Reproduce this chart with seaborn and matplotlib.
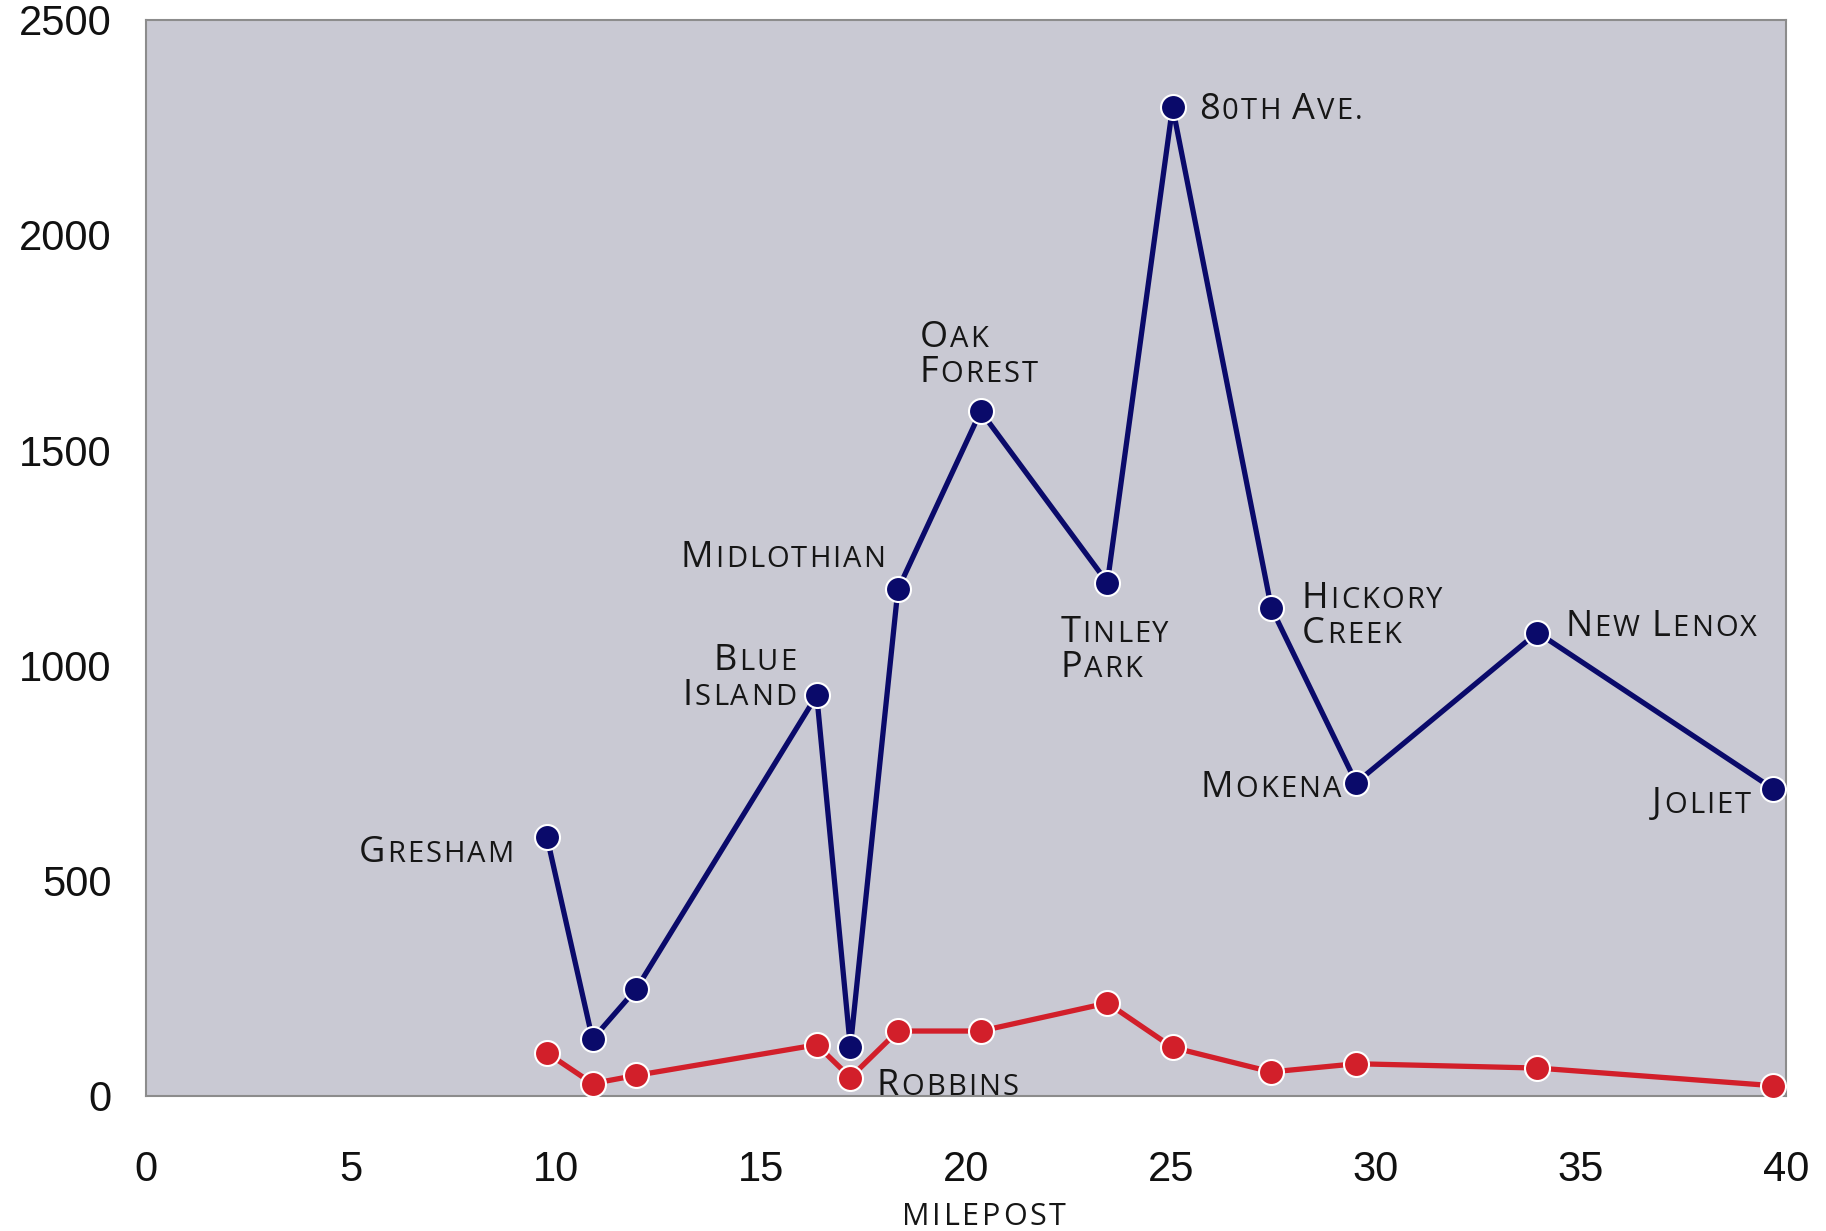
import matplotlib
matplotlib.use('Agg')
import matplotlib.pyplot as plt
import seaborn as sns
import pandas as pd
from matplotlib.offsetbox import TextArea, HPacker, VPacker, AnnotationBbox

# data
milepost = [9.78, 10.89, 11.96, 16.36, 17.18, 18.34, 20.36, 23.45, 25.04, 27.45, 29.52, 33.94, 39.69]
blue_vals = [600, 131, 248, 930, 112, 1176, 1590, 1192, 2297, 1133, 727, 1076, 713]
red_vals = [99, 28, 47, 118, 42, 150, 150, 215, 112, 55, 74, 64, 23]
station_names = ['Gresham', '', '', 'Blue\nIsland', '', 'Midlothian', 'Oak\nForest',
                 'Tinley\nPark', '80th Ave.', 'Hickory\nCreek', 'Mokena', 'New Lenox', 'Joliet']
red_names = ['', '', '', '', 'Robbins', '', '', '', '', '', '', '', '']
x_ticks = [0, 5, 10, 15, 20, 25, 30, 35, 40]
y_ticks = [0, 500, 1000, 1500, 2000, 2500]

NAVY = '#0a0a6a'
RED = '#d21f2a'
BG = '#c9c9d3'
LABEL_FONT = ['Open Sans', 'DejaVu Sans']

# label offsets in points: (dx, dy, box x-align)
blue_offsets = {0: (-24, -11, 1), 3: (-15, 12, 1), 5: (-9, 23, 1), 6: (-44, 40, 0),
                7: (-34, -49, 0), 8: (19, -2, 0), 9: (22, -6, 0), 10: (-11, -4, 1),
                11: (20, 4, 0), 12: (-16, -11, 1)}
red_offsets = {4: (19, -6, 0)}


def smallcaps_box(label, big=26, small=21, align='left', track=1.5):
    lines = []
    for line in label.split('\n'):
        parts = []
        for i, ch in enumerate(line):
            first = (i == 0 or line[i - 1] == ' ') and ch != ' '
            size = big if (ch.isupper() or first) else small
            parts.append(TextArea(ch.upper(), textprops=dict(fontsize=size, family=LABEL_FONT,
                                                             color='#161616')))
        lines.append(HPacker(children=parts, align='baseline', pad=0, sep=track))
    if len(lines) == 1:
        return lines[0]
    return VPacker(children=lines, align=align, pad=0, sep=-1)


sns.set_style('white')
plt.rcParams['font.family'] = ['Liberation Sans', 'DejaVu Sans']

df = pd.DataFrame({'milepost': milepost, 'blue': blue_vals, 'red': red_vals})

fig, ax = plt.subplots(figsize=(18.26, 12.31), dpi=100)
fig.subplots_adjust(left=0.080, right=0.978, bottom=0.110, top=0.984)
ax.set_facecolor(BG)

sns.lineplot(data=df, x='milepost', y='blue', color=NAVY, lw=3.8, marker='o',
             markersize=18, markeredgecolor='white', markeredgewidth=1.5,
             ax=ax, clip_on=False, zorder=3)
sns.lineplot(data=df, x='milepost', y='red', color=RED, lw=3.8, marker='o',
             markersize=18, markeredgecolor='white', markeredgewidth=1.5,
             ax=ax, clip_on=False, zorder=4)

for offsets, names, vals in [(blue_offsets, station_names, blue_vals),
                             (red_offsets, red_names, red_vals)]:
    for i, (dx, dy, hx) in offsets.items():
        box = smallcaps_box(names[i], align='right' if hx == 1 else 'left')
        ab = AnnotationBbox(box, (milepost[i], vals[i]), xybox=(dx, dy),
                            xycoords='data', boxcoords='offset points',
                            box_alignment=(hx, 0.5), frameon=False, pad=0,
                            annotation_clip=False, zorder=5)
        ax.add_artist(ab)

ax.set_xlim(0, 40)
ax.set_ylim(0, 2500)
ax.set_xticks(x_ticks)
ax.set_yticks(y_ticks)
ax.set_xlabel('')
ax.set_ylabel('')
ax.tick_params(axis='both', direction='out', length=9, width=1.2, color='#8c8c8c',
               labelsize=30, labelcolor='#111111')
ax.tick_params(axis='x', pad=30)
ax.tick_params(axis='y', pad=16)
for sp in ax.spines.values():
    sp.set_color('#8c8c8c')
    sp.set_linewidth(1.5)

xlab = smallcaps_box('milepost', big=22, small=22, track=2)
ax.add_artist(AnnotationBbox(xlab, (0.511, -0.113), xycoords='axes fraction',
                             box_alignment=(0.5, 0.5), frameon=False, pad=0,
                             annotation_clip=False))

fig.savefig('out.png', dpi=100, facecolor='white')
